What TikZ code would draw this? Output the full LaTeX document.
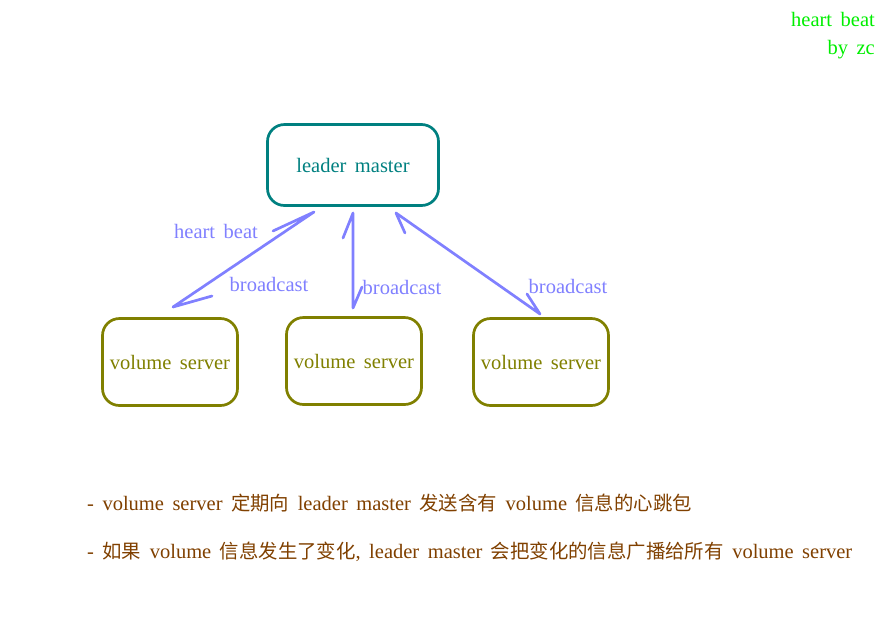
\documentclass[tikz,border=0pt]{standalone}
\usepackage{fontspec}
\setmainfont{Liberation Serif}
\newfontfamily\cjkfont{Noto Sans CJK SC}
\newcommand\zh[1]{{\cjkfont\fontsize{19.4}{24}\selectfont #1}}
\newcommand\ws{\hspace{8.5pt}}
\definecolor{leadc}{HTML}{008080}
\definecolor{volc}{HTML}{808000}
\definecolor{arrc}{HTML}{8080FF}
\definecolor{notec}{HTML}{804000}
\definecolor{signc}{HTML}{00EE00}
\tikzset{
  txt/.style={font=\fontsize{20.5}{24}\selectfont, inner sep=0pt},
  leaderbox/.style={txt, draw=leadc, text=leadc, line width=2.7pt, rounded corners=17pt,
    minimum width=171pt, minimum height=81pt},
  volbox/.style={txt, draw=volc, text=volc, line width=2.7pt, rounded corners=17pt,
    minimum width=135pt, minimum height=87pt},
  link/.style={draw=arrc, line width=2.7pt, line cap=round, line join=round},
  linklabel/.style={txt, text=arrc},
  note/.style={txt, text=notec, anchor=base west},
  sign/.style={txt, text=signc, anchor=base east},
}
\begin{document}
\begin{tikzpicture}[x=1pt,y=-1pt]
\useasboundingbox (0,0) rectangle (884,633);
\node[leaderbox] (lm) at (353,165) {leader\ws master};
\node[volbox] (v1) at (170,362) {volume\ws server};
\node[volbox] (v2) at (354,361) {volume\ws server};
\node[volbox] (v3) at (541,362) {volume\ws server};
% arrow ends and barbs
\coordinate (t1) at (314,212); \coordinate (b1) at (173,307);
\coordinate (t1w) at (273,231); \coordinate (b1w) at (212,296);
\coordinate (t2) at (353,213); \coordinate (b2) at (353,308);
\coordinate (t2w) at (343,238); \coordinate (b2w) at (362,287);
\coordinate (t3) at (396,213); \coordinate (b3) at (540,314);
\coordinate (t3w) at (405,233); \coordinate (b3w) at (527,294);
\draw[link] (t1w) -- (t1) -- (b1) -- (b1w);
\draw[link] (t2w) -- (t2) -- (b2) -- (b2w);
\draw[link] (t3w) -- (t3) -- (b3) -- (b3w);
\node[linklabel] (hb) at (216,231) {heart\ws beat};
\node[linklabel] (bc1) at (269,284) {broadcast};
\node[linklabel] (bc2) at (402,287) {broadcast};
\node[linklabel] (bc3) at (568,286) {broadcast};
\node[sign] (s1) at (875,26) {heart\ws beat};
\node[sign] (s2) at (875,54) {by\ws zc};
\node[note] (n1) at (87,510) {-\ws volume\ws server\ws\zh{定期向}\ws leader\ws master\ws\zh{发送含有}\ws volume\ws\zh{信息的心跳包}};
\node[note] (n2) at (87,558) {-\ws\zh{如果}\ws volume\ws\zh{信息发生了变化},\ws leader\ws master\ws\zh{会把变化的信息广播给所有}\ws volume\ws server};
\end{tikzpicture}
\end{document}
